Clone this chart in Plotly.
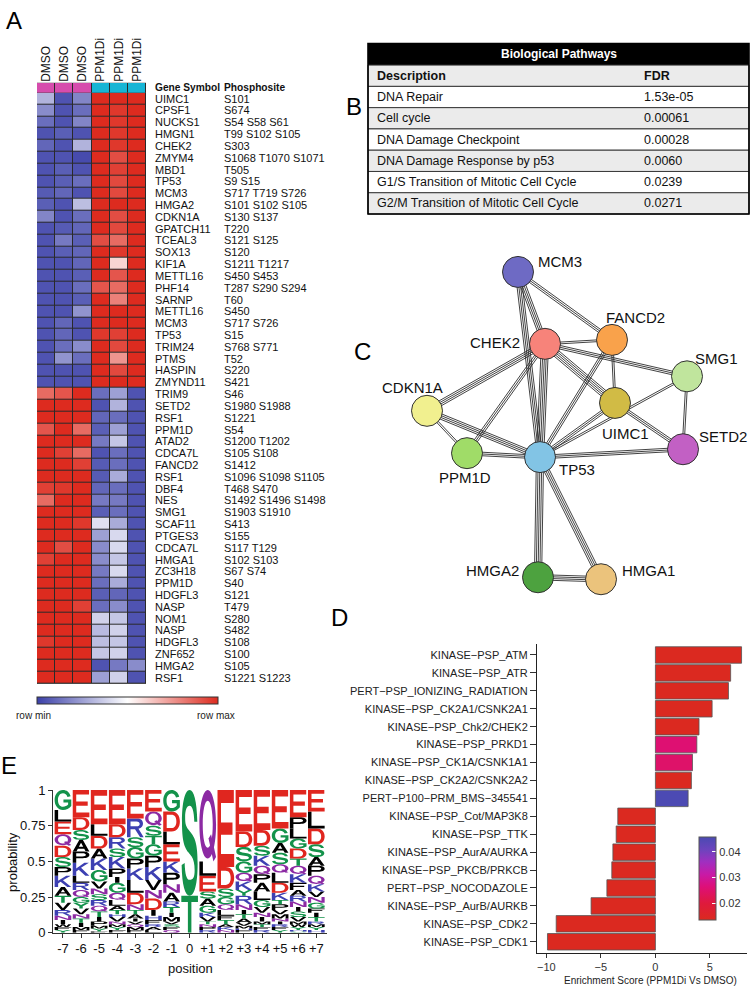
import re
import plotly.graph_objects as go

FONT = "Liberation Sans, Arial, sans-serif"
W, H = 753, 994


def px(v):
    return v / W


def py(v):
    return 1 - v / H


# ---------------- A: heatmap ----------------
samples = ["DMSO", "DMSO", "DMSO", "PPM1Di", "PPM1Di", "PPM1Di"]
genes = ["UIMC1", "CPSF1", "NUCKS1", "HMGN1", "CHEK2", "ZMYM4", "MBD1", "TP53", "MCM3", "HMGA2",
         "CDKN1A", "GPATCH11", "TCEAL3", "SOX13", "KIF1A", "METTL16", "PHF14", "SARNP", "METTL16", "MCM3",
         "TP53", "TRIM24", "PTMS", "HASPIN", "ZMYND11", "TRIM9", "SETD2", "RSF1", "PPM1D", "ATAD2",
         "CDCA7L", "FANCD2", "RSF1", "DBF4", "NES", "SMG1", "SCAF11", "PTGES3", "CDCA7L", "HMGA1",
         "ZC3H18", "PPM1D", "HDGFL3", "NASP", "NOM1", "NASP", "HDGFL3", "ZNF652", "HMGA2", "RSF1"]
sites = ["S101", "S674", "S54 S58 S61", "T99 S102 S105", "S303", "S1068 T1070 S1071", "T505", "S9 S15",
         "S717 T719 S726", "S101 S102 S105", "S130 S137", "T220", "S121 S125", "S120", "S1211 T1217",
         "S450 S453", "T287 S290 S294", "T60", "S450", "S717 S726", "S15", "S768 S771", "T52", "S220",
         "S421", "S46", "S1980 S1988", "S1221", "S54", "S1200 T1202", "S105 S108", "S1412",
         "S1096 S1098 S1105", "T468 S470", "S1492 S1496 S1498", "S1903 S1910", "S413", "S155",
         "S117 T129", "S102 S103", "S67 S74", "S40", "S121", "T479", "S280", "S482", "S108", "S100",
         "S105", "S1221 S1223"]
z_scaled = [
    [0.30, 0.05, 0.18, 1.00, 1.00, 1.00], [0.20, 0.05, 0.12, 1.00, 0.97, 1.00],
    [0.12, 0.05, 0.18, 1.00, 0.97, 1.00], [0.05, 0.08, 0.05, 1.00, 0.97, 1.00],
    [0.10, 0.05, 0.30, 1.00, 0.97, 1.00], [0.05, 0.05, 0.03, 1.00, 0.92, 1.00],
    [0.05, 0.08, 0.05, 1.00, 0.95, 1.00], [0.05, 0.08, 0.12, 1.00, 0.93, 1.00],
    [0.07, 0.10, 0.05, 1.00, 0.93, 1.00], [0.08, 0.05, 0.33, 1.00, 1.00, 1.00],
    [0.18, 0.05, 0.12, 1.00, 0.92, 1.00], [0.05, 0.07, 0.10, 1.00, 0.93, 1.00],
    [0.05, 0.15, 0.08, 0.92, 0.85, 1.00], [0.05, 0.08, 0.10, 1.00, 0.97, 1.00],
    [0.05, 0.05, 0.10, 1.00, 0.60, 1.00], [0.05, 0.05, 0.08, 1.00, 0.90, 1.00],
    [0.05, 0.05, 0.12, 0.90, 0.85, 1.00], [0.05, 0.05, 0.08, 1.00, 0.80, 1.00],
    [0.05, 0.05, 0.22, 1.00, 1.00, 1.00], [0.05, 0.10, 0.05, 1.00, 1.00, 1.00],
    [0.05, 0.10, 0.05, 0.97, 0.95, 1.00], [0.05, 0.12, 0.20, 1.00, 0.93, 1.00],
    [0.05, 0.22, 0.12, 1.00, 0.75, 1.00], [0.05, 0.05, 0.05, 1.00, 0.93, 1.00],
    [0.05, 0.05, 0.05, 1.00, 1.00, 1.00], [0.85, 0.90, 1.00, 0.12, 0.25, 0.05],
    [1.00, 1.00, 1.00, 0.05, 0.30, 0.05], [1.00, 1.00, 1.00, 0.10, 0.12, 0.05],
    [0.90, 1.00, 0.85, 0.08, 0.25, 0.05], [1.00, 1.00, 1.00, 0.15, 0.35, 0.05],
    [1.00, 0.95, 0.85, 0.05, 0.12, 0.05], [1.00, 1.00, 0.95, 0.07, 0.12, 0.05],
    [1.00, 1.00, 1.00, 0.07, 0.28, 0.05], [0.95, 0.97, 1.00, 0.10, 0.12, 0.05],
    [0.85, 1.00, 1.00, 0.15, 0.15, 0.05], [1.00, 1.00, 1.00, 0.08, 0.12, 0.05],
    [1.00, 1.00, 0.97, 0.42, 0.28, 0.05], [1.00, 1.00, 1.00, 0.25, 0.40, 0.05],
    [1.00, 0.92, 1.00, 0.20, 0.40, 0.05], [0.95, 1.00, 1.00, 0.20, 0.35, 0.05],
    [1.00, 1.00, 1.00, 0.15, 0.40, 0.05], [1.00, 1.00, 1.00, 0.12, 0.28, 0.05],
    [1.00, 1.00, 1.00, 0.08, 0.10, 0.05], [1.00, 1.00, 0.95, 0.12, 0.20, 0.05],
    [1.00, 1.00, 1.00, 0.38, 0.35, 0.05], [1.00, 1.00, 1.00, 0.32, 0.38, 0.05],
    [0.97, 1.00, 1.00, 0.33, 0.35, 0.05], [1.00, 1.00, 1.00, 0.35, 0.38, 0.05],
    [1.00, 1.00, 1.00, 0.05, 0.15, 0.20], [1.00, 1.00, 1.00, 0.25, 0.38, 0.05],
]
group_code = [0, 0, 0, 1, 1, 1]

# ---------------- B: pathways table ----------------
pathways = ["DNA Repair", "Cell cycle", "DNA Damage Checkpoint", "DNA Damage Response by p53",
            "G1/S Transition of Mitotic Cell Cycle", "G2/M Transition of Mitotic Cell Cycle"]
pathway_fdr = ["1.53e-05", "0.00061", "0.00028", "0.0060", "0.0239", "0.0271"]

# ---------------- C: network ----------------
nodes = ["MCM3", "CHEK2", "FANCD2", "SMG1", "UIMC1", "CDKN1A", "PPM1D", "TP53", "SETD2", "HMGA2", "HMGA1"]
node_colors = ["#6e6ac4", "#f7837a", "#f9a24b", "#c0e59d", "#d1bb45", "#f1f08f", "#a0dc68",
               "#82c4e5", "#c260c4", "#4da23f", "#ebc37c"]
node_pos = {"MCM3": (518, 269), "CHEK2": (545, 342), "FANCD2": (612, 338), "SMG1": (687, 375),
            "UIMC1": (615, 402), "CDKN1A": (427, 410), "PPM1D": (467, 453), "TP53": (540, 457),
            "SETD2": (683, 449), "HMGA2": (538, 579), "HMGA1": (601, 581)}
edges = [("MCM3", "CHEK2", 4), ("MCM3", "TP53", 4), ("MCM3", "FANCD2", 3), ("CHEK2", "FANCD2", 2),
         ("CHEK2", "SMG1", 3), ("CHEK2", "UIMC1", 5), ("CHEK2", "CDKN1A", 4), ("CHEK2", "PPM1D", 3),
         ("CHEK2", "TP53", 5), ("FANCD2", "UIMC1", 2), ("FANCD2", "TP53", 3), ("SMG1", "SETD2", 2),
         ("SMG1", "TP53", 2), ("UIMC1", "TP53", 3), ("UIMC1", "SETD2", 3), ("CDKN1A", "PPM1D", 2),
         ("CDKN1A", "TP53", 4), ("PPM1D", "TP53", 3), ("TP53", "SETD2", 3), ("TP53", "HMGA2", 5),
         ("TP53", "HMGA1", 4), ("HMGA2", "HMGA1", 4)]
label_pos = {"MCM3": (536, 258, "left"), "CHEK2": (522, 341, "right"), "FANCD2": (635, 315, "center"),
             "SMG1": (716, 357, "center"), "UIMC1": (625, 433, "center"), "CDKN1A": (412, 386, "center"),
             "PPM1D": (465, 478, "center"), "TP53": (557, 470, "left"), "SETD2": (697, 436, "left"),
             "HMGA2": (521, 572, "right"), "HMGA1": (620, 572, "left")}

# ---------------- D: enrichment bars ----------------
ptm_sets = ["KINASE\u2212PSP_ATM", "KINASE\u2212PSP_ATR", "PERT\u2212PSP_IONIZING_RADIATION",
            "KINASE\u2212PSP_CK2A1/CSNK2A1", "KINASE\u2212PSP_Chk2/CHEK2", "KINASE\u2212PSP_PRKD1",
            "KINASE\u2212PSP_CK1A/CSNK1A1", "KINASE\u2212PSP_CK2A2/CSNK2A2", "PERT\u2212P100\u2212PRM_BMS\u2212345541",
            "KINASE\u2212PSP_Cot/MAP3K8", "KINASE\u2212PSP_TTK", "KINASE\u2212PSP_AurA/AURKA",
            "KINASE\u2212PSP_PKCB/PRKCB", "PERT\u2212PSP_NOCODAZOLE", "KINASE\u2212PSP_AurB/AURKB",
            "KINASE\u2212PSP_CDK2", "KINASE\u2212PSP_CDK1"]
enrichment = [7.9, 6.9, 6.7, 5.2, 4.0, 3.8, 3.4, 3.3, 3.0, -3.45, -3.6, -3.9, -4.0, -4.45, -5.9, -9.1, -9.9]
ptm_fdr = [0.014, 0.014, 0.014, 0.014, 0.014, 0.026, 0.025, 0.014, 0.0455,
           0.014, 0.014, 0.014, 0.014, 0.014, 0.014, 0.014, 0.014]

# ---------------- E: motif logo ----------------
logo_positions = ["-7", "-6", "-5", "-4", "-3", "-2", "-1", "0", "+1", "+2", "+3", "+4", "+5", "+6", "+7"]
logo_cols = [
    [("G", .14), ("L", .08), ("E", .09), ("Q", .08), ("D", .08), ("S", .07), ("P", .06), ("K", .08), ("A", .06),
     ("T", .05), ("V", .05), ("R", .04), ("N", .03), ("I", .03), ("W", .02), ("F", .02), ("Y", .02)],
    [("E", .19), ("D", .09), ("S", .07), ("A", .08), ("P", .08), ("K", .09), ("L", .05), ("R", .05), ("Q", .05),
     ("G", .04), ("Y", .04), ("V", .04), ("N", .03), ("T", .03), ("I", .03), ("M", .02), ("F", .02)],
    [("E", .24), ("L", .08), ("D", .09), ("A", .07), ("K", .08), ("G", .08), ("V", .05), ("N", .04), ("S", .04),
     ("R", .04), ("Q", .04), ("T", .04), ("I", .03), ("P", .03), ("M", .02), ("Y", .02), ("F", .01)],
    [("E", .24), ("D", .09), ("R", .08), ("S", .06), ("K", .08), ("P", .06), ("I", .04), ("G", .07), ("Q", .05),
     ("L", .04), ("A", .03), ("T", .03), ("H", .02), ("V", .03), ("N", .02), ("M", .02), ("Y", .02), ("F", .02)],
    [("E", .20), ("R", .13), ("S", .07), ("G", .08), ("P", .07), ("K", .08), ("L", .09), ("D", .08), ("N", .04),
     ("T", .03), ("A", .03), ("I", .02), ("V", .02), ("Q", .02), ("M", .02), ("F", .02)],
    [("E", .15), ("Q", .10), ("S", .07), ("T", .06), ("G", .08), ("P", .08), ("K", .09), ("V", .07), ("N", .06),
     ("D", .08), ("I", .04), ("H", .03), ("F", .03), ("R", .02), ("A", .02), ("L", .02)],
    [("G", .15), ("D", .14), ("L", .09), ("E", .12), ("K", .08), ("P", .08), ("N", .06), ("A", .06), ("R", .04),
     ("T", .04), ("I", .03), ("M", .03), ("V", .02), ("S", .02), ("F", .02), ("Q", .02)],
    [("S", .74), ("T", .26)],
    [("Q", .50), ("L", .10), ("E", .11), ("S", .05), ("A", .05), ("G", .05), ("K", .03), ("V", .03), ("T", .02),
     ("N", .02), ("P", .02), ("R", .02)],
    [("E", .54), ("D", .15), ("S", .06), ("G", .05), ("Q", .04), ("L", .04), ("F", .03), ("T", .03), ("A", .02),
     ("K", .02), ("N", .02)],
    [("E", .29), ("D", .11), ("S", .10), ("G", .08), ("Q", .06), ("K", .06), ("Y", .04), ("R", .06), ("N", .04),
     ("I", .03), ("T", .03), ("A", .03), ("V", .02), ("M", .02), ("H", .01), ("F", .02)],
    [("E", .28), ("D", .11), ("S", .07), ("K", .07), ("Q", .06), ("P", .06), ("A", .06), ("L", .06), ("G", .05),
     ("V", .04), ("N", .03), ("I", .03), ("M", .02), ("T", .02), ("F", .02), ("R", .02)],
    [("E", .27), ("G", .10), ("A", .07), ("S", .08), ("Q", .06), ("L", .07), ("D", .07), ("K", .05), ("T", .03),
     ("P", .04), ("V", .03), ("M", .03), ("N", .02), ("I", .02), ("R", .02), ("F", .02), ("Y", .02)],
    [("E", .19), ("P", .08), ("L", .07), ("G", .07), ("D", .07), ("T", .05), ("Q", .06), ("K", .06), ("F", .05),
     ("A", .04), ("R", .04), ("N", .04), ("I", .03), ("S", .04), ("V", .03), ("M", .02), ("W", .02), ("Y", .02),
     ("H", .01), ("C", .01)],
    [("E", .15), ("L", .12), ("D", .11), ("S", .09), ("A", .06), ("P", .07), ("Q", .06), ("K", .05), ("V", .04),
     ("N", .04), ("G", .04), ("F", .03), ("I", .03), ("T", .03), ("R", .02), ("M", .02), ("Y", .02), ("H", .02)],
]

# letter outlines in a unit box (x right, y up); separate strings are drawn as separate shapes
GLYPHS = {
    "A": ["M0 0 L0.22 0 L0.31 0.24 L0.69 0.24 L0.78 0 L1 0 L0.61 1 L0.39 1 Z M0.37 0.4 L0.63 0.4 L0.5 0.76 Z"],
    "C": ["M0.97 0.68 C0.9 0.9 0.72 1 0.5 1 C0.2 1 0 0.78 0 0.5 C0 0.22 0.2 0 0.5 0 C0.74 0 0.9 0.12 0.98 0.32 "
          "L0.79 0.37 C0.74 0.23 0.64 0.16 0.5 0.16 C0.32 0.16 0.2 0.3 0.2 0.5 C0.2 0.7 0.32 0.84 0.5 0.84 "
          "C0.63 0.84 0.73 0.77 0.78 0.63 Z"],
    "D": ["M0 0 L0.5 0 C0.84 0 1 0.22 1 0.5 C1 0.78 0.84 1 0.5 1 L0 1 Z M0.21 0.17 L0.48 0.17 "
          "C0.7 0.17 0.79 0.3 0.79 0.5 C0.79 0.7 0.7 0.83 0.48 0.83 L0.21 0.83 Z"],
    "E": ["M0 0 L1 0 L1 0.17 L0.21 0.17 L0.21 0.42 L0.9 0.42 L0.9 0.58 L0.21 0.58 L0.21 0.83 L0.98 0.83 "
          "L0.98 1 L0 1 Z"],
    "F": ["M0 0 L0.21 0 L0.21 0.42 L0.86 0.42 L0.86 0.58 L0.21 0.58 L0.21 0.83 L1 0.83 L1 1 L0 1 Z"],
    "G": ["M0.96 0.69 C0.89 0.9 0.72 1 0.5 1 C0.2 1 0 0.78 0 0.5 C0 0.22 0.2 0 0.5 0 C0.7 0 0.87 0.07 1 0.2 "
          "L1 0.53 L0.53 0.53 L0.53 0.38 L0.81 0.38 L0.81 0.27 C0.73 0.2 0.63 0.16 0.5 0.16 "
          "C0.32 0.16 0.2 0.3 0.2 0.5 C0.2 0.7 0.32 0.84 0.5 0.84 C0.63 0.84 0.72 0.78 0.77 0.65 Z"],
    "H": ["M0 0 L0.21 0 L0.21 0.42 L0.79 0.42 L0.79 0 L1 0 L1 1 L0.79 1 L0.79 0.58 L0.21 0.58 L0.21 1 L0 1 Z"],
    "I": ["M0.37 0 L0.63 0 L0.63 1 L0.37 1 Z"],
    "K": ["M0 0 L0.21 0 L0.21 0.32 L0.36 0.47 L0.76 0 L1 0 L0.5 0.61 L0.97 1 L0.7 1 L0.21 0.56 L0.21 1 L0 1 Z"],
    "L": ["M0 0 L1 0 L1 0.17 L0.21 0.17 L0.21 1 L0 1 Z"],
    "M": ["M0 0 L0.17 0 L0.17 0.72 L0.42 0 L0.58 0 L0.83 0.72 L0.83 0 L1 0 L1 1 L0.75 1 L0.5 0.3 L0.25 1 "
          "L0 1 Z"],
    "N": ["M0 0 L0.19 0 L0.19 0.7 L0.79 0 L1 0 L1 1 L0.81 1 L0.81 0.3 L0.21 1 L0 1 Z"],
    "P": ["M0 0 L0.21 0 L0.21 0.4 L0.6 0.4 C0.86 0.4 1 0.52 1 0.7 C1 0.88 0.86 1 0.6 1 L0 1 Z "
          "M0.21 0.56 L0.57 0.56 C0.72 0.56 0.79 0.62 0.79 0.7 C0.79 0.78 0.72 0.84 0.57 0.84 L0.21 0.84 Z"],
    "Q": ["M0.5 0.04 C0.78 0.04 1 0.25 1 0.52 C1 0.79 0.78 1 0.5 1 C0.22 1 0 0.79 0 0.52 C0 0.25 0.22 0.04 0.5 0.04 Z "
          "M0.5 0.19 C0.68 0.19 0.8 0.33 0.8 0.52 C0.8 0.71 0.68 0.85 0.5 0.85 C0.32 0.85 0.2 0.71 0.2 0.52 "
          "C0.2 0.33 0.32 0.19 0.5 0.19 Z",
          "M0.55 0.32 L0.7 0.38 L1 0.06 L0.84 0 Z"],
    "R": ["M0 0 L0.21 0 L0.21 0.42 L0.48 0.42 L0.79 0 L1 0 L0.69 0.45 C0.88 0.5 0.96 0.6 0.96 0.72 "
          "C0.96 0.9 0.82 1 0.6 1 L0 1 Z M0.21 0.58 L0.57 0.58 C0.7 0.58 0.76 0.64 0.76 0.71 "
          "C0.76 0.78 0.7 0.84 0.57 0.84 L0.21 0.84 Z"],
    "S": ["M0.96 0.7 C0.93 0.9 0.75 1 0.5 1 C0.22 1 0.04 0.88 0.04 0.7 C0.04 0.52 0.18 0.46 0.42 0.41 "
          "L0.62 0.37 C0.74 0.34 0.8 0.3 0.8 0.24 C0.8 0.17 0.7 0.15 0.5 0.15 C0.32 0.15 0.22 0.2 0.2 0.31 "
          "L0.02 0.29 C0.04 0.1 0.22 0 0.5 0 C0.8 0 0.98 0.12 0.98 0.3 C0.98 0.48 0.84 0.54 0.6 0.59 "
          "L0.4 0.63 C0.28 0.66 0.23 0.68 0.23 0.74 C0.23 0.81 0.33 0.85 0.5 0.85 C0.66 0.85 0.76 0.8 0.78 0.7 Z"],
    "T": ["M0.395 0 L0.605 0 L0.605 0.83 L1 0.83 L1 1 L0 1 L0 0.83 L0.395 0.83 Z"],
    "V": ["M0 1 L0.4 0 L0.6 0 L1 1 L0.79 1 L0.5 0.23 L0.21 1 Z"],
    "W": ["M0 1 L0.19 0 L0.37 0 L0.5 0.64 L0.63 0 L0.81 0 L1 1 L0.83 1 L0.71 0.3 L0.58 1 L0.42 1 L0.29 0.3 "
          "L0.17 1 Z"],
    "Y": ["M0.4 0 L0.6 0 L0.6 0.42 L1 1 L0.77 1 L0.5 0.6 L0.23 1 L0 1 L0.4 0.42 Z"],
}
RESIDUE_COLOR = {}
for aa in "DE":
    RESIDUE_COLOR[aa] = "#e0261f"
for aa in "STGYC":
    RESIDUE_COLOR[aa] = "#13924a"
for aa in "QN":
    RESIDUE_COLOR[aa] = "#8c2aa3"
for aa in "KRH":
    RESIDUE_COLOR[aa] = "#3d40b2"


def glyph_path(d, x0, w, y0, h):
    out, nums = [], []
    for tok in re.findall(r"[MLCQZ]|-?\d*\.?\d+", d):
        if tok.isalpha():
            out.append(tok)
        else:
            nums.append(float(tok))
            if len(nums) == 2:
                out.append(f"{x0 + nums[0] * w:.4f},{y0 + nums[1] * h:.5f}")
                nums = []
    return " ".join(out)


def label(x, y, text, size, xanchor="center", yanchor="middle", xref="paper", yref="paper", **kw):
    return dict(x=x, y=y, xref=xref, yref=yref, text=text, showarrow=False, xanchor=xanchor,
                yanchor=yanchor, font=dict(size=size, color=kw.pop("color", "#111")), **kw)


fig = go.Figure()
shapes = []
ann = []

# ---- A: heatmap
rows = list(range(len(genes)))
fig.add_trace(go.Heatmap(
    z=z_scaled, x=list(range(6)), y=rows, xaxis="x", yaxis="y",
    zmin=0, zmax=1, xgap=1, ygap=1,
    colorscale=[[0, "#3b40a8"], [0.5, "#ffffff"], [1, "#dd2b1f"]],
    colorbar=dict(orientation="h", x=px(127.5), xanchor="center", y=py(704.5), yanchor="middle",
                  len=181, lenmode="pixels", thickness=7, xpad=0, ypad=0,
                  outlinewidth=1, outlinecolor="#333", showticklabels=False, ticks=""),
    hoverinfo="skip",
))
fig.add_trace(go.Heatmap(
    z=[group_code], x=list(range(6)), y=[0], xaxis="x2", yaxis="y2",
    zmin=0, zmax=1, xgap=1, ygap=0, showscale=False,
    colorscale=[[0, "#d64cad"], [0.5, "#d64cad"], [0.5, "#17b5d5"], [1, "#17b5d5"]],
    hoverinfo="skip",
))
shapes.append(dict(type="rect", xref="x", yref="y", x0=-0.5, x1=5.5, y0=-0.5, y1=len(genes) - 0.5,
                   fillcolor="#2a2a2a", line=dict(width=1, color="#2a2a2a"), layer="below"))
shapes.append(dict(type="rect", xref="x2", yref="y2", x0=-0.5, x1=5.5, y0=-0.5, y1=0.5,
                   fillcolor="#2a2a2a", line=dict(width=1, color="#2a2a2a"), layer="below"))
for i, (g, s) in enumerate(zip(genes, sites)):
    ann.append(label(px(153), i, g, 11, xanchor="left", yref="y"))
    ann.append(label(px(222), i, s, 11, xanchor="left", yref="y"))
ann.append(label(px(153), py(82), "<b>Gene Symbol</b>", 10.2, xanchor="left"))
ann.append(label(px(222), py(82), "<b>Phosphosite</b>", 10.2, xanchor="left"))
ann.append(label(px(33), py(719), "row min", 10, color="#222"))
ann.append(label(px(216), py(719), "row max", 10, color="#222"))

# ---- B: table drawn as rows
tab_x0, tab_x1, row_h, top = 368, 749, 21.6, 59
shapes.append(dict(type="rect", xref="paper", yref="paper", x0=px(tab_x0), x1=px(tab_x1), y0=py(top),
                   y1=py(37), fillcolor="black", line=dict(width=0)))
ann.append(label(px((tab_x0 + tab_x1) / 2), py(48), "<b>Biological Pathways</b>", 12, color="white"))
table_rows = [("<b>Description</b>", "<b>FDR</b>")] + list(zip(pathways, pathway_fdr))
for k, (desc, fdr) in enumerate(table_rows):
    y0 = top + k * row_h
    shapes.append(dict(type="rect", xref="paper", yref="paper", x0=px(tab_x0), x1=px(tab_x1),
                       y0=py(y0 + row_h), y1=py(y0), fillcolor="#ebebeb" if k % 2 == 0 else "white",
                       line=dict(width=1, color="#3a3a3a")))
    ann.append(label(px(375), py(y0 + row_h / 2), desc, 12.5, xanchor="left"))
    ann.append(label(px(642), py(y0 + row_h / 2), fdr, 12.5, xanchor="left"))
shapes.append(dict(type="rect", xref="paper", yref="paper", x0=px(tab_x0), x1=px(tab_x1),
                   y0=py(top + len(table_rows) * row_h), y1=py(37), line=dict(width=1.6, color="black")))

# ---- C: network (axis units are pixels)
ex, ey = [], []
for a, b, n in edges:
    (x1, y1), (x2, y2) = node_pos[a], node_pos[b]
    dx, dy = x2 - x1, y2 - y1
    L = (dx * dx + dy * dy) ** 0.5
    nx, ny = -dy / L, dx / L
    for k in range(n):
        off = (k - (n - 1) / 2) * 1.8
        ex += [x1 + nx * off, x2 + nx * off, None]
        ey += [y1 + ny * off, y2 + ny * off, None]
fig.add_trace(go.Scatter(x=ex, y=ey, mode="lines", xaxis="x5", yaxis="y5",
                         line=dict(color="#2e2e2e", width=0.9), hoverinfo="skip", showlegend=False))
fig.add_trace(go.Scatter(
    x=[node_pos[n][0] for n in nodes], y=[node_pos[n][1] for n in nodes], mode="markers",
    xaxis="x5", yaxis="y5", marker=dict(size=31, color=node_colors, line=dict(width=1, color="#333")),
    hoverinfo="text", text=nodes, showlegend=False))
for n in nodes:
    lx, ly, anc = label_pos[n]
    ann.append(label(lx, ly, n, 15, xanchor=anc, xref="x5", yref="y5"))

# ---- D: bar chart
ypos = list(range(len(ptm_sets)))
fig.add_trace(go.Bar(
    x=enrichment, y=ypos, orientation="h", xaxis="x3", yaxis="y3", width=0.92,
    marker=dict(color=ptm_fdr, cmin=0.0138, cmax=0.0458,
                colorscale=[[0, "#db2a1f"], [0.2, "#df1a3c"], [0.4, "#de0f78"], [0.55, "#c81aa6"],
                            [0.7, "#a02fc0"], [0.85, "#6c44bd"], [1, "#4a4ab2"]],
                line=dict(color="#555", width=0.8),
                colorbar=dict(x=px(699), xanchor="left", y=py(884.5), yanchor="middle", len=83,
                              lenmode="pixels", thickness=17, xpad=0, ypad=0, outlinewidth=1,
                              outlinecolor="#555", ticks="inside", tickcolor="white", ticklen=4,
                              tickvals=[0.02, 0.03, 0.04], ticktext=["0.02", "0.03", "0.04"],
                              tickfont=dict(size=11, color="#333"))),
    showlegend=False, hoverinfo="x+y",
))
ann.append(label(px(650), py(988), "Enrichment Score (PPM1Di Vs DMSO)", 10, color="#222"))

# ---- E: logo
for i, col in enumerate(logo_cols):
    base = 0.0
    for letter, p in reversed(col):
        for d in GLYPHS[letter]:
            shapes.append(dict(type="path", xref="x4", yref="y4", layer="above",
                               path=glyph_path(d, i - 7 - 0.46, 0.92, base, p),
                               fillcolor=RESIDUE_COLOR.get(letter, "#000000"), line=dict(width=0)))
        base += p
fig.add_trace(go.Scatter(x=[-7, 7], y=[0, 1], mode="markers", xaxis="x4", yaxis="y4",
                         marker=dict(opacity=0), hoverinfo="skip", showlegend=False))
ann.append(label(px(190), py(976), "position", 13))
ann.append(label(px(13), py(868), "probability", 13, textangle=-90))

# panel letters
for lab, xx, yy in [("A", 14, 14), ("B", 354, 101), ("C", 362, 350), ("D", 339, 620), ("E", 9, 770)]:
    ann.append(label(px(xx), py(yy), lab, 24, color="black"))

hidden = dict(visible=False, showgrid=False, zeroline=False)
fig.update_layout(
    width=W, height=H, margin=dict(l=0, r=0, t=0, b=0),
    paper_bgcolor="white", plot_bgcolor="rgba(0,0,0,0)",
    font=dict(family=FONT, color="#111"),
    showlegend=False,
    xaxis=dict(domain=[px(37), px(146)], range=[-0.5, 5.5], anchor="y", **hidden),
    yaxis=dict(domain=[py(687), py(87)], range=[len(genes) - 0.5, -0.5], anchor="x", **hidden),
    xaxis2=dict(domain=[px(37), px(146)], range=[-0.5, 5.5], anchor="y2", side="top",
                tickvals=list(range(6)), ticktext=samples, tickangle=-90, ticks="",
                showgrid=False, zeroline=False, showline=False, tickfont=dict(size=12, color="#111")),
    yaxis2=dict(domain=[py(87), py(77)], range=[-0.5, 0.5], anchor="x2", **hidden),
    xaxis3=dict(domain=[px(537), px(747)], range=[-10.86, 8.4], anchor="y3",
                tickvals=[-10, -5, 0, 5], ticks="outside", ticklen=4, tickcolor="#333",
                showline=True, linecolor="#222", linewidth=1, showgrid=False, zeroline=False,
                tickfont=dict(size=11, color="#333")),
    yaxis3=dict(domain=[py(960), py(647)], range=[16.6, -0.6], anchor="x3",
                tickvals=ypos, ticktext=ptm_sets, ticks="outside", ticklen=6, tickcolor="#333",
                showline=True, linecolor="#222", linewidth=1, showgrid=False, zeroline=False,
                tickfont=dict(size=11, color="#222")),
    xaxis4=dict(domain=[px(53), px(327)], range=[-7.55, 7.59], anchor="y4",
                tickvals=list(range(-7, 8)), ticktext=logo_positions, ticks="outside", ticklen=4,
                tickcolor="#333", showline=True, linecolor="#333", linewidth=1, showgrid=False,
                zeroline=False, tickfont=dict(size=13, color="#111")),
    yaxis4=dict(domain=[py(940), py(795)], range=[0, 1], anchor="x4",
                tickvals=[0, 0.25, 0.5, 0.75, 1], ticktext=["0", "0.25", "0.5", "0.75", "1"],
                ticks="outside", ticklen=4, tickcolor="#333", showline=True, linecolor="#333",
                linewidth=1, showgrid=False, zeroline=False, tickfont=dict(size=13, color="#111")),
    xaxis5=dict(domain=[px(390), 1.0], range=[390, 753], anchor="y5", **hidden),
    yaxis5=dict(domain=[py(600), py(250)], range=[600, 250], anchor="x5", **hidden),
    shapes=shapes,
    annotations=ann,
)

# the page body has a default 8px margin; drop it so the figure fills the window exactly
fig.write_html("out.html", config={"displayModeBar": False},
               post_script="document.body.style.margin='0';")
